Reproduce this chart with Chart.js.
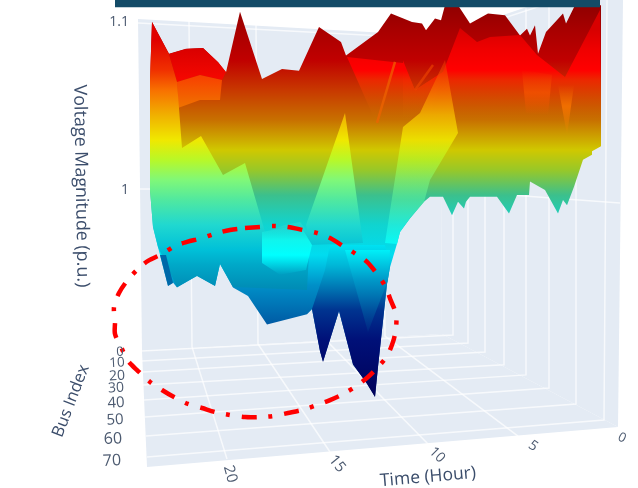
<!DOCTYPE html>
<html><head><meta charset="utf-8">
<script src="https://cdn.jsdelivr.net/npm/chart.js@4"></script>
<style>html,body{margin:0;padding:0;background:#fff;overflow:hidden}canvas{display:block;filter:blur(.6px)}</style>
</head><body><canvas id="c" width="638" height="488"></canvas>
<script>
// Horizontal values are positions along the projected 3D view; vertical values are Voltage Magnitude (p.u.).
const voltageTicks=[1,1.1];
const busTickLabels=['0','10','20','30','40','50','60','70'];
const busTickX=[120,117,117,116,116,115,113,112];
const busTickV=[.9036,.8971,.8893,.8822,.8733,.8631,.8518,.8388];
const busTickSize=[13,13.5,14,14,15,15,16,16];
const timeTickLabels=['20','15','10','5','0'];
const timeTickX=[230,337,437,533,622];
const timeTickV=[.831,.837,.8423,.8477,.8524];
const timeTickAngle=[75,50,45,35,25];
const timeTickSize=[15,15,14,14,13];

const wallLeft=[[138,1.1017],[440,1.0916],[442,.9143],[142,.9042]];
const wallRight=[[440,1.0916],[548,1.113],[623,1.113],[618,.859],[442,.9143]];
const floorPlane=[[142,.9042],[442,.9143],[618,.859],[147,.8352]];
const gridLines=[
 [[189,1.1006],[192,.9066],[227,.84]],[[256,1.0982],[258,.9084],[330,.8441]],
 [[323,1.0964],[325,.9113],[428,.8489]],[[382,1.094],[385,.9131],[518,.8536]],
 [[138,1.0994],[440,1.0898],[620,1.125]],[[138,1.0006],[442,1],[620,.9923]],
 [[453,1.094],[453,.9137],[142,.9042]],[[468,1.097],[468,.909],[142,.8983]],
 [[485,1.1006],[485,.9036],[143,.8917]],[[504,1.104],[504,.896],[143,.884]],
 [[526,1.108],[526,.89],[144,.875]],[[549,1.1125],[549,.8822],[145,.865]],
 [[576,1.113],[576,.8727],[146,.8536]],[[607,1.113],[604,.8631],[147,.8411]]
];

const silhouette=[[150,1.065],[152,1.1],[169,1.081],[186,1.084],[203,1.0845],[218,1.076],[226,1.07],[240,1.106],[262,1.066],[282,1.072],[299,1.071],[319,1.097],[341,1.088],[346,1.08],[378,1.094],[391,1.105],[412,1.1],[422,1.099],[426,1.095],[435,1.102],[441,1.101],[445,1.11],[458,1.11],[470,1.099],[488,1.105],[505,1.104],[520,1.092],[527,1.096],[530,1.092],[535,1.098],[538,1.081],[546,1.094],[563,1.105],[566,1.099],[575,1.11],[601,1.11],[601,1.026],[592,1.023],[592,1.021],[583,1.018],[574,1.002],[567,.991],[563,.994],[558,.986],[545,1],[530,1.005],[529,.997],[517,.997],[509,.986],[497,.996],[470,.996],[466,.993],[464,.989],[458,.993],[452,.985],[443,.996],[430,.996],[424,.993],[410,.983],[400,.975],[397,.968],[390,.954],[387,.944],[378,.895],[375,.877],[367,.885],[353,.896],[339,.928],[323,.898],[320,.904],[312,.929],[307,.926],[267,.92],[248,.937],[233,.942],[220,.956],[215,.943],[197,.949],[177,.942],[173,.945],[168,.943],[158,.966],[153,.978],[150,1]];
const sheetRight=[[403,1.077],[415,1.0595],[443,1.0702],[460,1.0964],[477,1.0881],[490,1.091],[520,1.0922],[537,1.0803],[565,1.0672],[600,1.1071],[601,1.0262],[403,1.0262]];
const redValley=[[347,1.0791],[393,1.0762],[403,1.0756],[415,1.0595],[443,1.0702],[430,1.0446],[403,1.0375],[375,1.0417]];
const backRed=[[169,1.0809],[186,1.0839],[203,1.0845],[218,1.0762],[226,1.0702],[222,1.0655],[200,1.0684],[177,1.0643]];
const backOrange=[[177,1.0643],[200,1.0684],[222,1.0655],[220,1.0536],[200,1.0536],[178,1.0488]];
const leftRidge=[[150,1.0655],[152,1.1],[169,1.0809],[177,1.0643],[182,1.025],[201,1.0321],[223,1.0089],[245,1.0161],[265,.975],[285,.9792],[300,.981],[310,.9732],[307,.9405],[233,.9423],[220,.956],[215,.9429],[197,.9488],[177,.9423],[158,.9661],[153,.978],[150,1]];
const leftFold=[[160,.9613],[168,.9429],[173,.9447],[166,.9613]];
const spikeLit=[[345,1.0458],[363,.9685],[310,.9673],[306,.9792],[320,1.003]];
const midLit=[[385,.9685],[403,1.0375],[420,1.0458],[445,1.0774],[458,1.0339],[430,1.006],[424,.9929],[410,.9833],[400,.975],[397,.9679]];
const cyanBlob=[[262,.975],[300,.9792],[312,.9673],[306,.9524],[280,.9495],[262,.9565]];
const deepSpikes=[[312,.9292],[325,.9524],[330,.9673],[385,.9673],[390,.9542],[387,.9441],[378,.8947],[375,.8768],[367,.8846],[353,.8965],[339,.928],[323,.8977],[320,.9042]];
const wedge=[[345,.9643],[390,.9643],[388,.9464],[368,.9155]];
const orangeBlobA=[[522,1.0714],[552,1.0685],[548,1.0446],[526,1.0458]];
const orangeBlobB=[[558,1.0625],[574,1.0625],[567,1.0327]];
const streakA=[[377,1.0399],[395,1.0762]];
const streakB=[[415,1.0595],[433,1.0744]];
const topBar=[[115,1.113],[600,1.113],[600,1.1088],[115,1.1088]];
const annotationRing=[[245,.9774],[260,.978],[273,.9786],[288,.978],[303,.9762],[317,.9744],[330,.9714],[343,.9667],[356,.9619],[367,.9572],[377,.95],[385,.9429],[391,.934],[396,.9262],[396,.9179],[393,.9096],[387,.9012],[378,.8947],[368,.8887],[355,.8828],[343,.8786],[330,.875],[317,.8721],[302,.8691],[288,.8673],[273,.8655],[259,.8649],[245,.8649],[230,.8661],[215,.8679],[202,.8703],[188,.8727],[174,.8768],[162,.881],[150,.8858],[138,.8923],[128,.8983],[122,.9054],[115,.9143],[115,.9215],[114,.9304],[119,.9387],[127,.9459],[138,.953],[148,.9578],[162,.9619],[175,.9667],[187,.9691],[202,.9714],[217,.9744],[230,.9762],[245,.9774]];

const mainColors=[[1.11,'#900000'],[1.0952,'#a80000'],[1.0774,'#c00000'],[1.0595,'#c83800'],[1.0417,'#c87000'],[1.0238,'#d0c800'],[1.0119,'#98c828'],[.997,'#3cc08c'],[.9792,'#10d4d0'],[.9613,'#00dcf0'],[.9435,'#0090c8'],[.9226,'#0060a8'],[.9078,'#003c90'],[.875,'#002070']];
const litColors=[[1.0893,'#e00000'],[1.0714,'#f03000'],[1.0595,'#f87000'],[1.0446,'#f0b000'],[1.0298,'#f0e800'],[1.0179,'#b8f828'],[1.006,'#80f878'],[.994,'#50e8a0'],[.9792,'#20d8d0'],[.9643,'#00c0d8'],[.9554,'#00a8c8'],[.9435,'#0090b8'],[.9345,'#0080b0']];
const midLitColors=[[1.0774,'rgba(240,48,0,.5)'],[1.0595,'rgba(248,112,0,.75)'],[1.0446,'rgba(240,176,0,.9)'],[1.0298,'rgba(240,232,0,.85)'],[1.0179,'rgba(184,248,40,.7)'],[1.006,'rgba(128,248,120,.6)'],[.994,'rgba(80,232,160,.7)'],[.9792,'#20e8d8'],[.9643,'#00ffff']];
const brightColors=[[1.0952,'rgba(216,0,0,1)'],[1.0833,'rgba(240,0,0,1)'],[1.0714,'rgba(255,0,0,1)'],[1.0655,'rgba(240,40,0,.9)'],[1.0536,'rgba(220,80,0,.5)'],[1.0417,'rgba(200,120,0,0)']];
const deepColors=[[.9702,'#00ecf8'],[.9554,'#00b8d8'],[.9405,'#0070b0'],[.9286,'#003490'],[.9107,'#001078'],[.875,'#000058']];
const wedgeColors=[[.9643,'#00f0f8'],[.9464,'#0098c8'],[.9167,'rgba(0,48,136,.6)']];
const cyanColors=[[.9792,'rgba(32,240,224,0)'],[.9702,'rgba(16,250,240,.9)'],[.9613,'#00ffff'],[.9495,'rgba(0,240,248,0)']];
const backRedColors=[[1.085,'#d80000'],[1.064,'#f80800']];
const backOrangeColors=[[1.068,'#f84000'],[1.05,'#f07000']];
const orangeFadeA=[[1.0714,'rgba(255,90,0,0)'],[1.058,'rgba(255,90,0,.55)'],[1.0446,'rgba(255,90,0,0)']];
const orangeFadeB=[[1.0625,'rgba(255,110,0,0)'],[1.05,'rgba(255,120,0,.7)'],[1.0327,'rgba(255,140,0,0)']];

const bandFill=stops=>ctx=>{
  const c=ctx.chart;
  if(!c.chartArea||!c.scales.y) return '#000';
  const s=c.scales.y, top=s.top, bot=s.bottom;
  const g=c.ctx.createLinearGradient(0,top,0,bot);
  stops.forEach(([v,col])=>g.addColorStop(Math.min(1,Math.max(0,(s.getPixelForValue(v)-top)/(bot-top))),col));
  return g;
};
const pts=a=>a.map(([x,y])=>({x,y}));
const shape=(a,bg)=>({data:pts(a),showLine:true,fill:'shape',backgroundColor:bg,borderColor:'transparent',borderWidth:0,pointRadius:0});
const stroke=(a,col,w)=>({data:pts(a),showLine:true,fill:false,borderColor:col,borderWidth:w,pointRadius:0});

const layers=[
  shape(wallLeft,'#e4ebf4'),shape(wallRight,'#e4ebf4'),shape(floorPlane,'#e4ebf4'),
  ...gridLines.map(l=>stroke(l,'rgba(255,255,255,.7)',1.5)),
  shape(silhouette,bandFill(mainColors)),
  shape(redValley,bandFill(brightColors)),
  shape(sheetRight,bandFill(brightColors)),
  shape(backRed,bandFill(backRedColors)),
  shape(backOrange,bandFill(backOrangeColors)),
  shape(leftRidge,bandFill(litColors)),
  shape(leftFold,'#0068a8'),
  shape(spikeLit,bandFill(litColors)),
  shape(midLit,bandFill(midLitColors)),
  shape(orangeBlobA,bandFill(orangeFadeA)),
  shape(orangeBlobB,bandFill(orangeFadeB)),
  stroke(streakA,'rgba(240,100,0,.7)',2.5),
  stroke(streakB,'rgba(240,70,0,.6)',2.5),
  shape(cyanBlob,bandFill(cyanColors)),
  shape(deepSpikes,bandFill(deepColors)),
  shape(wedge,bandFill(wedgeColors)),
  {...stroke(annotationRing,'#ff0000',4.5),borderDash:[15,12,4,11.6],tension:.3},
  shape(topBar,'#134b67')
];
layers.forEach((d,i)=>{d.order=layers.length-i;});

const perspectiveText={
  id:'perspectiveText',
  afterDraw(chart){
    const {ctx,scales:{x,y}}=chart;
    const put=(txt,px,v,deg,size,col)=>{
      ctx.save();
      ctx.translate(x.getPixelForValue(px),y.getPixelForValue(v));
      ctx.rotate(deg*Math.PI/180);
      ctx.font=size+'px "Open Sans"';
      ctx.fillStyle=col;ctx.textAlign='center';ctx.textBaseline='middle';
      ctx.fillText(txt,0,0);
      ctx.restore();
    };
    const tick='#4c5a70', title='#3b4d6b';
    busTickLabels.forEach((t,i)=>put(t,busTickX[i],busTickV[i],-3,busTickSize[i],tick));
    timeTickLabels.forEach((t,i)=>put(t,timeTickX[i],timeTickV[i],timeTickAngle[i],timeTickSize[i],tick));
    put('Voltage Magnitude (p.u.)',81,1.0024,89,17.9,title);
    put('Time (Hour)',428,.8292,-5,17.5,title);
    put('Bus Index',71,.8745,-69,16.6,title);
  }
};

new Chart(document.getElementById('c'),{
  type:'scatter',
  data:{datasets:layers},
  plugins:[perspectiveText],
  options:{
    responsive:false,animation:false,events:[],
    layout:{padding:0},
    plugins:{legend:{display:false},tooltip:{enabled:false}},
    scales:{
      x:{type:'linear',min:0,max:638,display:false},
      y:{type:'linear',min:.82269,max:1.11305,position:{x:129},
         grid:{display:false},border:{display:false},
         afterBuildTicks:s=>{s.ticks=voltageTicks.map(value=>({value}));},
         afterFit:s=>{s.paddingTop=0;s.paddingBottom=0;},
         ticks:{autoSkip:false,padding:3,crossAlign:'center',color:'#4c5a70',font:{family:'"Open Sans"',size:14},callback:v=>String(v)}}
    }
  }
});
</script></body></html>
